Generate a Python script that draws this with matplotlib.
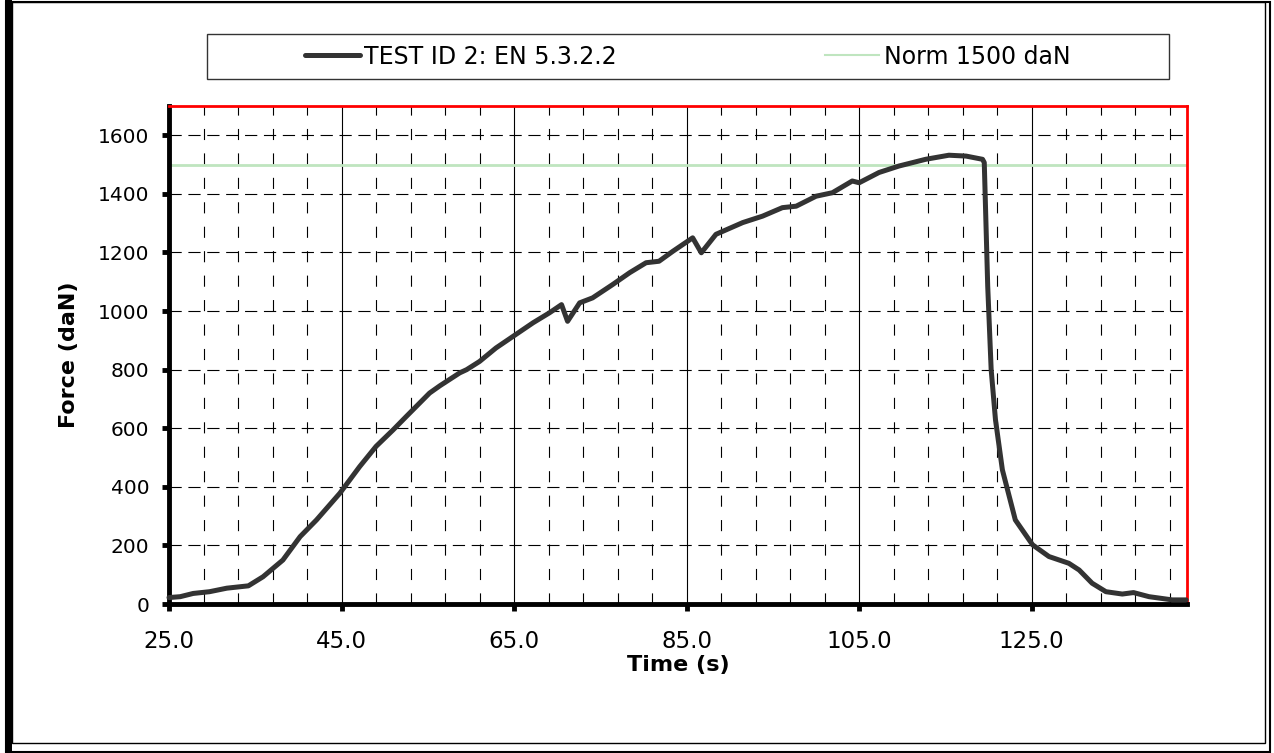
import numpy as np
import matplotlib
matplotlib.use("Agg")
import matplotlib.pyplot as plt
from matplotlib.lines import Line2D
from matplotlib.patches import Rectangle
from matplotlib.ticker import MultipleLocator, FormatStrFormatter

plt.rcParams['font.family'] = ['DejaVu Sans']

# Force-time curve
time_s = [25.0, 26.3, 27.8, 29.7, 31.7, 34.2, 35.9, 38.2, 40.2, 42.1,
          44.8, 47.1, 49.0, 51.0, 52.5, 55.2, 56.4, 58.7, 59.5, 61.0,
          62.9, 64.9, 67.2, 69.1, 70.5, 71.2, 72.6, 74.1, 76.4, 78.4,
          80.3, 81.8, 83.4, 85.7, 86.7, 88.4, 91.5, 93.8, 96.1, 97.7,
          100.0, 101.9, 104.2, 105.0, 107.3, 109.6, 112.7, 115.4, 117.4, 119.3,
          119.5, 119.9, 120.3, 120.8, 121.6, 123.1, 125.1, 127.0, 129.3, 130.5,
          132.0, 133.6, 135.5, 136.8, 138.6, 141.3, 142.9]
force_daN = [22, 25, 36, 42, 54, 62, 93, 150, 230, 287,
             378, 469, 538, 595, 640, 720, 745, 789, 800, 828,
             874, 914, 960, 994, 1022, 965, 1028, 1045, 1090, 1131,
             1165, 1170, 1204, 1250, 1199, 1262, 1302, 1324, 1353, 1358,
             1392, 1404, 1444, 1438, 1473, 1495, 1518, 1532, 1529, 1518,
             1507, 1085, 800, 629, 458, 287, 202, 162, 139, 116,
             71, 42, 34, 39, 25, 14, 14]

norm_level = 1500
series_label = "TEST ID 2: EN 5.3.2.2"
norm_label = "Norm 1500 daN"

fig = plt.figure(figsize=(12.74, 7.53), dpi=100)
ax = fig.add_axes([169 / 1274, 1 - 604 / 753, 1018 / 1274, 498 / 753])

# grid: solid at labelled times, dashed every 4 s and every 200 daN
ax.xaxis.set_major_locator(MultipleLocator(20, offset=5))
ax.xaxis.set_minor_locator(MultipleLocator(4, offset=1))
ax.xaxis.set_major_formatter(FormatStrFormatter('%.1f'))
ax.yaxis.set_major_locator(MultipleLocator(200))
ax.grid(axis='x', which='major', color='black', lw=0.8, ls='-')
ax.grid(axis='x', which='minor', color='black', lw=0.8, ls=(0, (10, 12)))
ax.grid(axis='y', which='major', color='black', lw=0.8, ls=(0, (11, 6)))
ax.set_axisbelow(True)

ax.axhline(norm_level, color='#bfe5bf', lw=2.0, zorder=2)
ax.plot(time_s, force_daN, color='#333333', lw=3.6,
        solid_joinstyle='round', solid_capstyle='round', zorder=3, clip_on=False)

ax.set_xlim(25, 143)
ax.set_ylim(0, 1700)

for side in ['top', 'right']:
    ax.spines[side].set_color('red')
    ax.spines[side].set_linewidth(2.0)
for side in ['left', 'bottom']:
    ax.spines[side].set_color('black')
    ax.spines[side].set_linewidth(3.5)

ax.tick_params(axis='x', which='major', length=5, width=3.5, direction='out',
               labelsize=16.5, pad=14)
ax.tick_params(axis='x', which='minor', length=0)
ax.tick_params(axis='y', which='major', length=5, width=3.5, direction='out',
               labelsize=14.5, pad=9)

ax.set_xlabel("Time (s)", fontsize=16, fontweight='bold')
ax.set_ylabel("Force (daN)", fontsize=16, fontweight='bold')
ax.xaxis.set_label_coords(0.5, (604 - 665) / 498)
ax.xaxis.label.set_va('center')
ax.yaxis.set_label_coords((69 - 169) / 1018, 0.5)
ax.yaxis.label.set_va('center')

# legend with its own box
fig.patches.append(Rectangle((207 / 1274, 1 - 79 / 753), 962 / 1274, 45 / 753,
                             transform=fig.transFigure, fill=False,
                             edgecolor='#333333', lw=1.0))
handles = [Line2D([], [], color='#333333', lw=3.6, solid_capstyle='round'),
           Line2D([], [], color='#bfe5bf', lw=1.5)]
fig.legend(handles, [series_label, norm_label], loc='center',
           bbox_to_anchor=(688 / 1274, 1 - 56.5 / 753), ncol=2, frameon=False,
           fontsize=17, handlelength=2.3, handletextpad=0.2,
           columnspacing=8.8)

# outer frame
fig.patches.append(Rectangle((5 / 1274, 0), 7 / 1274, 1, transform=fig.transFigure,
                             color='black', lw=0))
fig.patches.append(Rectangle((6 / 1274, 1 / 753), 1264 / 1274, 750 / 753,
                             transform=fig.transFigure, fill=False,
                             edgecolor='black', lw=1.5))
fig.patches.append(Rectangle((12 / 1274, 10 / 753), 1253 / 1274, 741 / 753,
                             transform=fig.transFigure, fill=False,
                             edgecolor='black', lw=1.0))

fig.savefig("out.png", dpi=100)
